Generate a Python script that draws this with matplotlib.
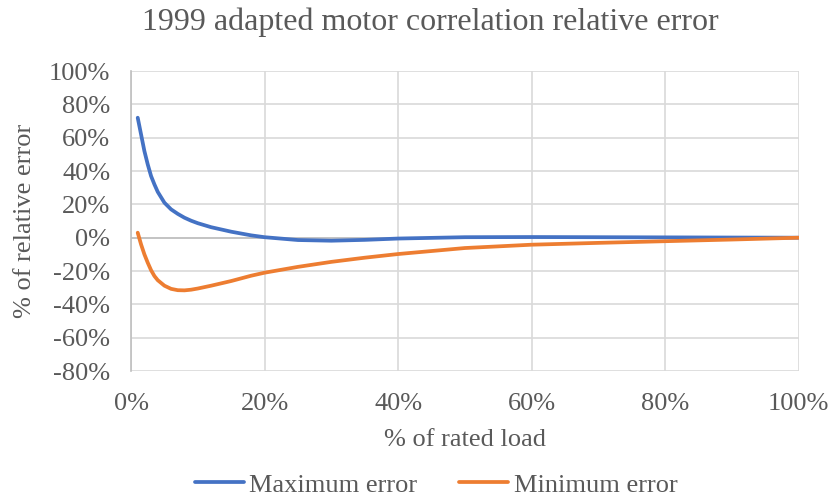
import matplotlib
matplotlib.use('Agg')
import matplotlib.pyplot as plt
from matplotlib.ticker import FuncFormatter

# % of rated load
load = [1, 1.5, 2, 2.5, 3, 3.5, 4, 5, 6, 7, 8, 9, 10, 12, 15, 18, 20, 25, 30, 35, 40, 50, 60, 70, 80, 90, 100]
max_err = [72, 62, 52, 44, 37, 32, 27.5, 21, 17, 14.3, 12, 10.2, 8.7, 6.3, 3.6, 1.4, 0.3, -1.4, -1.8, -1.3, -0.5, 0.3, 0.4, 0.3, 0.2, 0.1, 0]
min_err = [3, -4, -10, -15, -19.5, -23, -25.5, -28.8, -30.7, -31.5, -31.6, -31.2, -30.5, -28.8, -26, -22.8, -21, -17.5, -14.5, -12, -9.8, -6.2, -4.2, -3.1, -2.1, -1.1, 0]

plt.rcParams['font.family'] = ['Liberation Serif', 'DejaVu Serif']
text_color = '#595959'

fig = plt.figure(figsize=(8.32, 4.97), dpi=100)
ax = fig.add_axes([0.1575, 0.2535, 0.8025, 0.6035])

ax.plot(load, max_err, color='#4472C4', linewidth=2.7, solid_capstyle='round',
        solid_joinstyle='round', label='Maximum error')
ax.plot(load, min_err, color='#ED7D31', linewidth=2.7, solid_capstyle='round',
        solid_joinstyle='round', label='Minimum error')

ax.set_xlim(0, 100)
ax.set_ylim(-80, 100)
ax.set_xticks(range(0, 101, 20))
ax.set_yticks(range(-80, 101, 20))
pct = FuncFormatter(lambda v, p: f'{v:.0f}%')
ax.xaxis.set_major_formatter(pct)
ax.yaxis.set_major_formatter(pct)

ax.grid(True, color='#D9D9D9', linewidth=1.2)
ax.set_axisbelow(True)
for s in ['top', 'right', 'bottom']:
    ax.spines[s].set_visible(False)
ax.spines['left'].set_color('#BFBFBF')
ax.spines['left'].set_linewidth(1.2)
ax.axhline(0, color='#BFBFBF', linewidth=1.2, zorder=1)
ax.tick_params(length=0, labelsize=19, colors=text_color)
ax.tick_params(axis='x', pad=16)
ax.tick_params(axis='y', pad=15)

fig.suptitle('1999 adapted motor correlation relative error', fontsize=23, color=text_color,
             x=0.517, y=0.955, va='center')
ax.set_xlabel('% of rated load', fontsize=19, color=text_color, labelpad=10)
ax.set_ylabel('% of relative error', fontsize=19, color=text_color, labelpad=9)

ax.legend(loc='center', bbox_to_anchor=(0.457, -0.38), ncol=2, frameon=False,
          fontsize=19, labelcolor=text_color, handlelength=1.85, columnspacing=1.6,
          handletextpad=0.2, borderaxespad=0)

plt.savefig('out.png', dpi=100)
